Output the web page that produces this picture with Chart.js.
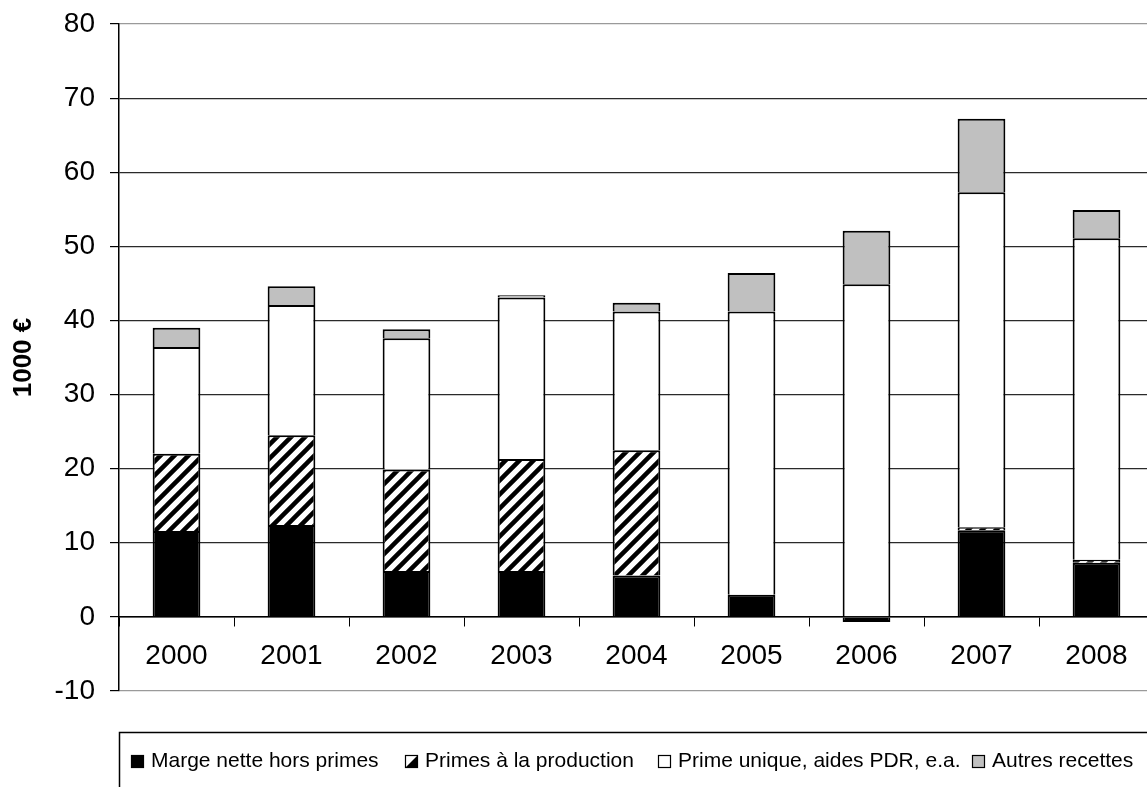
<!DOCTYPE html>
<html>
<head>
<meta charset="utf-8">
<script src="https://cdn.jsdelivr.net/npm/chart.js@4.4.0/dist/chart.umd.min.js"></script>
<style>
  html, body { margin: 0; padding: 0; background: #fff; overflow: hidden; }
  #wrap { width: 1147px; height: 787px; overflow: hidden; }
  canvas { display: block; }
</style>
</head>
<body>
<div id="wrap"><canvas id="myChart" width="1200" height="787"></canvas></div>
<script>
"use strict";

// revenue components per year, in 1000 €
var years = ["2000", "2001", "2002", "2003", "2004", "2005", "2006", "2007", "2008"];
var margeNette = [11.6, 12.4, 6.2, 6.2, 5.6, 3.0, -0.7, 11.7, 7.3];
var primesProduction = [10.4, 12.1, 13.7, 15.1, 16.9, 0, 0, 0.4, 0.4];
var primeUnique = [14.4, 17.6, 17.7, 21.8, 18.7, 38.2, 44.9, 45.2, 43.4];
var autresRecettes = [2.6, 2.5, 1.2, 0.3, 1.2, 5.2, 7.2, 9.9, 3.8];
var yMin = -10, yMax = 80, yStep = 10;

var FONT = '"Liberation Sans", Arial, sans-serif';

// diagonal hatch for the production premiums
function makeHatch() {
    var size = 14;
    var c = document.createElement('canvas');
    c.width = size; c.height = size;
    var g = c.getContext('2d');
    g.fillStyle = '#fff';
    g.fillRect(0, 0, size, size);
    g.strokeStyle = '#000';
    g.lineWidth = 4.5;
    g.beginPath();
    g.moveTo(-2, size + 2); g.lineTo(size + 2, -2);
    g.moveTo(-2, 2); g.lineTo(2, -2);
    g.moveTo(size - 2, size + 2); g.lineTo(size + 2, size - 2);
    g.stroke();
    return g.createPattern(c, 'repeat');
}

var ctx = document.getElementById('myChart').getContext('2d');
var hatch = makeHatch();

// boxed legend under the plot
var legendItemX = [131, 405, 658, 972];
var legendBox = {
    id: 'legendBox',
    afterDraw: function(chart) {
        var c = chart.ctx;
        var left = chart.chartArea.left;
        var top = 732;
        c.save();
        c.strokeStyle = '#000';
        c.lineWidth = 1.5;
        c.strokeRect(left + 0.5, top + 0.5, chart.width, 120);
        c.font = '21px ' + FONT;
        c.textBaseline = 'alphabetic';
        chart.data.datasets.forEach(function(ds, i) {
            var x = legendItemX[i], y = 755, s = 13;
            if (ds.backgroundColor === hatch) {
                c.fillStyle = '#fff';
                c.fillRect(x, y, s, s);
                c.fillStyle = '#000';
                c.beginPath();
                c.moveTo(x + s, y);
                c.lineTo(x + s, y + s);
                c.lineTo(x, y + s);
                c.closePath();
                c.fill();
            } else {
                c.fillStyle = ds.backgroundColor;
                c.fillRect(x, y, s, s);
            }
            c.lineWidth = 1.2;
            c.strokeStyle = '#000';
            c.strokeRect(x + 0.5, y + 0.5, s - 1, s - 1);
            c.fillStyle = '#000';
            c.fillText(ds.label, x + 20, 767);
        });
        c.restore();
    }
};

var chart = new Chart(ctx, {
    type: 'bar',
    data: {
        labels: years,
        datasets: [{
            label: "Marge nette hors primes",
            backgroundColor: '#000',
            data: margeNette
        },
        {
            label: "Primes à la production",
            backgroundColor: hatch,
            data: primesProduction
        },
        {
            label: "Prime unique, aides PDR, e.a.",
            backgroundColor: '#fff',
            data: primeUnique
        },
        {
            label: "Autres recettes",
            backgroundColor: '#c0c0c0',
            data: autresRecettes
        }]
    },
    options: {
        responsive: false,
        animation: false,
        devicePixelRatio: 1,
        layout: { padding: { left: 0, top: 24, right: 46, bottom: 96 } },
        datasets: {
            bar: {
                borderColor: '#000',
                borderWidth: 2,
                categoryPercentage: 1,
                barPercentage: 0.415
            }
        },
        plugins: {
            legend: { display: false },
            tooltip: { enabled: false }
        },
        scales: {
            x: {
                stacked: true,
                position: { y: 0 },
                grid: {
                    drawOnChartArea: false,
                    drawTicks: true,
                    tickLength: 9,
                    tickColor: '#000',
                    offset: true
                },
                border: { display: true, color: '#000', width: 1.5 },
                ticks: {
                    color: '#000',
                    padding: 14,
                    font: { family: FONT, size: 28 }
                }
            },
            y: {
                stacked: true,
                min: yMin,
                max: yMax,
                afterFit: function(scale) {
                    scale.width = 119;
                    scale.paddingTop = 0;
                    scale.paddingBottom = 0;
                },
                ticks: {
                    stepSize: yStep,
                    color: '#000',
                    padding: 15,
                    font: { family: FONT, size: 28 }
                },
                grid: {
                    color: function(c) {
                        var v = c.tick ? c.tick.value : 0;
                        return (v === yMin || v === yMax) ? '#9a9a9a' : '#2a2a2a';
                    },
                    lineWidth: 1.2,
                    tickLength: 9,
                    tickColor: '#000'
                },
                border: { display: true, color: '#000', width: 1.5 },
                title: {
                    display: true,
                    text: '1000 €',
                    color: '#000',
                    padding: { top: 8, bottom: 0 },
                    font: { family: FONT, size: 26, weight: 'bold' }
                }
            }
        }
    },
    plugins: [legendBox]
});
</script>
</body>
</html>
